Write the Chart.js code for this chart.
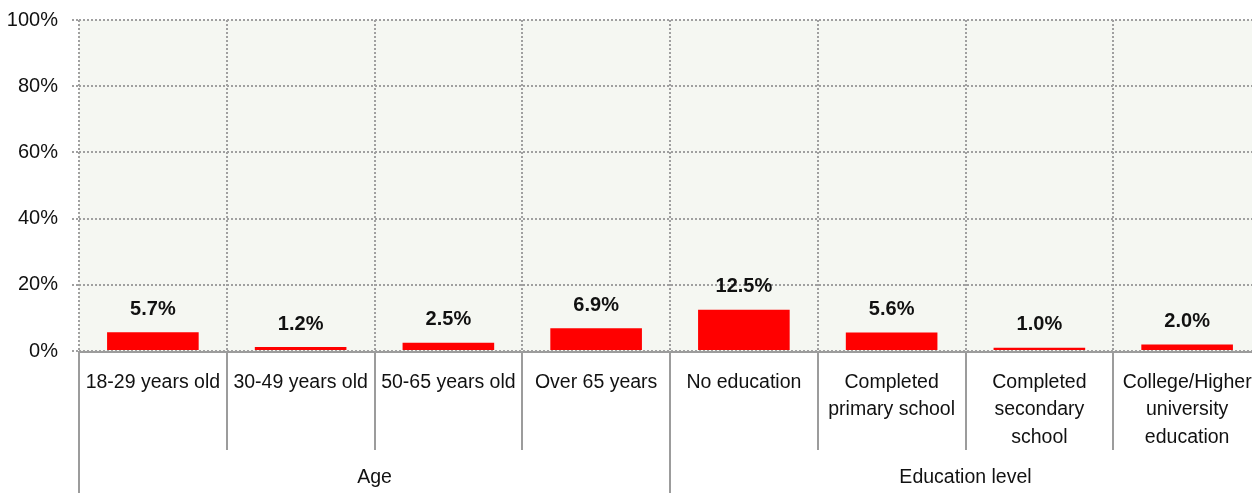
<!DOCTYPE html>
<html>
<head>
<meta charset="utf-8">
<script src="https://cdn.jsdelivr.net/npm/chart.js@4/dist/chart.umd.min.js"></script>
<style>
  html, body { margin: 0; padding: 0; background: #ffffff; overflow: hidden; }
  #wrap { width: 1261px; height: 493px; }
</style>
</head>
<body>
<div id="wrap"><canvas id="chart" width="1261" height="493"></canvas></div>
<script>
// Category labels (multi-line entries are arrays)
const categories = [
  '18-29 years old',
  '30-49 years old',
  '50-65 years old',
  'Over 65 years',
  'No education',
  ['Completed', 'primary school'],
  ['Completed', 'secondary', 'school'],
  ['College/Higher', 'university', 'education']
];
// Share of respondents, percent
const values = [5.7, 1.2, 2.5, 6.9, 12.5, 5.6, 1.0, 2.0];
// Outer grouping of the categories
const groupNames = ['Age', 'Education level'];
const groupSizes = [4, 4];
// Value axis
const yTicks = [0, 20, 40, 60, 80, 100];

const FONT = "'Liberation Sans', Arial, sans-serif";
const TEXT = '#111111';
const GRID = '#a0a0a0';
const SEP = '#9c9c9c';

const plotBackground = {
  id: 'plotBackground',
  beforeDraw(chart) {
    const { ctx, chartArea: a } = chart;
    ctx.save();
    ctx.fillStyle = '#f5f7f2';
    ctx.fillRect(a.left, a.top, a.right - a.left, a.bottom - a.top);
    ctx.restore();
  }
};

const valueLabels = {
  id: 'valueLabels',
  afterDatasetsDraw(chart) {
    const { ctx } = chart;
    const meta = chart.getDatasetMeta(0);
    ctx.save();
    ctx.font = 'bold 20px ' + FONT;
    ctx.fillStyle = TEXT;
    ctx.textAlign = 'center';
    ctx.textBaseline = 'middle';
    meta.data.forEach((bar, i) => {
      ctx.fillText(values[i].toFixed(1) + '%', bar.x, bar.y - 23);
    });
    ctx.restore();
  }
};

const categoryFrame = {
  id: 'categoryFrame',
  afterDraw(chart) {
    const { ctx, chartArea: a } = chart;
    const x = chart.scales.x;
    const step = x.getPixelForValue(1) - x.getPixelForValue(0);
    const edge = i => x.getPixelForValue(i) - step / 2;
    const groupEdges = [0];
    groupSizes.reduce((s, n) => { groupEdges.push(s + n); return s + n; }, 0);

    ctx.save();
    // axis line
    ctx.strokeStyle = SEP;
    ctx.lineWidth = 2;
    ctx.beginPath();
    ctx.moveTo(a.left, a.bottom + 1);
    ctx.lineTo(a.right, a.bottom + 1);
    ctx.stroke();

    // separators between categories and between groups
    for (let i = 0; i <= categories.length; i++) {
      const px = Math.round(edge(i));
      const isGroup = groupEdges.includes(i);
      ctx.beginPath();
      ctx.moveTo(px, a.bottom);
      ctx.lineTo(px, isGroup ? chart.height : 450);
      ctx.stroke();
    }

    // group names
    ctx.font = '19.5px ' + FONT;
    ctx.fillStyle = TEXT;
    ctx.textAlign = 'center';
    ctx.textBaseline = 'middle';
    groupNames.forEach((name, g) => {
      const mid = (edge(groupEdges[g]) + edge(groupEdges[g + 1])) / 2;
      ctx.fillText(name, mid, 478);
    });
    ctx.restore();
  }
};

new Chart(document.getElementById('chart'), {
  type: 'bar',
  data: {
    labels: categories,
    datasets: [{
      data: values,
      backgroundColor: '#ff0000',
      borderWidth: 0,
      barPercentage: 0.62,
      categoryPercentage: 1.0
    }]
  },
  options: {
    responsive: false,
    animation: false,
    devicePixelRatio: 1,
    layout: { padding: { top: 20, left: 0, right: 0, bottom: 0 } },
    plugins: {
      legend: { display: false },
      tooltip: { enabled: false }
    },
    scales: {
      x: {
        offset: true,
        grid: {
          display: true,
          offset: true,
          drawTicks: false,
          color: GRID,
          lineWidth: 2
        },
        border: { display: false, dash: [2, 2] },
        ticks: {
          color: TEXT,
          font: { family: FONT, size: 19.5, lineHeight: 1.4 },
          padding: 18,
          maxRotation: 0,
          minRotation: 0,
          autoSkip: false
        },
        afterFit(scale) {
          scale.height = 142;
          scale.paddingLeft = 0;
          scale.paddingRight = 0;
        }
      },
      y: {
        min: 0,
        max: 100,
        afterBuildTicks(scale) { scale.ticks = yTicks.map(v => ({ value: v })); },
        grid: {
          color: GRID,
          lineWidth: 2,
          drawTicks: true,
          tickLength: 7,
          tickBorderDash: [2, 2]
        },
        border: { display: false, dash: [2, 2] },
        ticks: {
          color: TEXT,
          font: { family: FONT, size: 20 },
          padding: 14,
          callback: v => v + '%'
        },
        afterFit(scale) {
          scale.width = 79;
          scale.paddingTop = 0;
          scale.paddingBottom = 0;
        }
      }
    }
  },
  plugins: [plotBackground, valueLabels, categoryFrame]
});
</script>
</body>
</html>
